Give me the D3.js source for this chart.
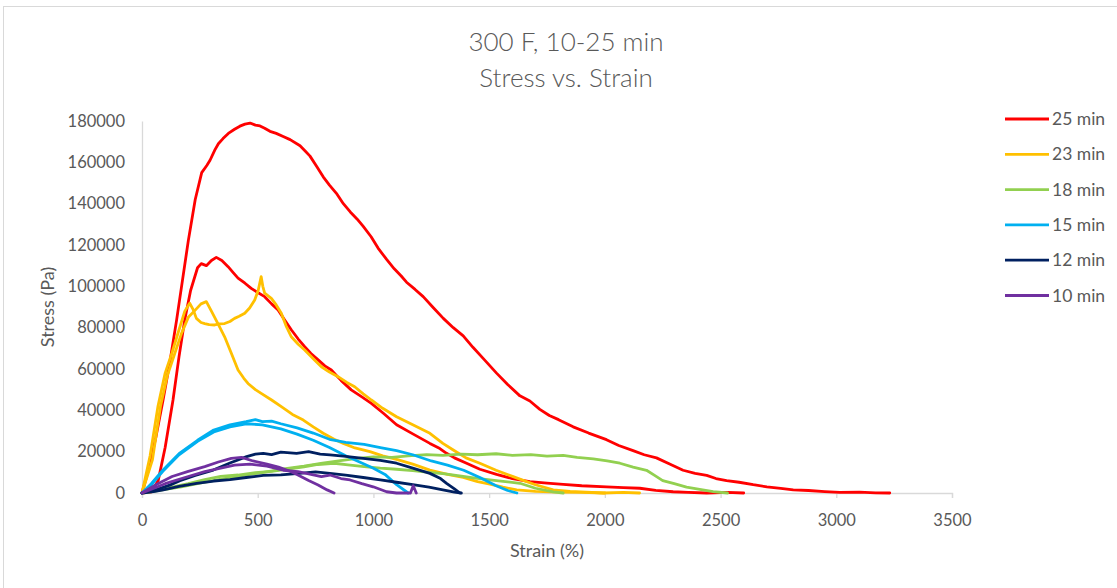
<!DOCTYPE html>
<html>
<head>
<meta charset="utf-8">
<script src="https://cdn.jsdelivr.net/npm/d3@7"></script>
<style>
  body { margin: 0; background: #fff; }
  svg { display: block; font-family: Lato, "Open Sans", sans-serif; }
</style>
</head>
<body>
<div id="chart"></div>
<script>
// series (legend order) and the two test pieces drawn for each of them
const seriesNames = ["25 min", "23 min", "18 min", "15 min", "12 min", "10 min"];
const seriesColors = ["#ff0000", "#ffc000", "#92d050", "#00b0f0", "#002060", "#7030a0"];
const xTicks = [0, 500, 1000, 1500, 2000, 2500, 3000, 3500];
const yTicks = [0, 20000, 40000, 60000, 80000, 100000, 120000, 140000, 160000, 180000];

// [strain %, stress Pa]
const min25a = [[0,0],[30,12000],[60,27000],[91,45000],[120,63000],[150,84000],[175,103000],[200,122000],[230,142000],[258,155000],[280,158500],[294,161000],[315,166000],[330,169000],[350,171500],[373,174000],[400,176000],[423,177500],[445,178500],[467,179000],[490,178000],[510,177600],[530,176500],[553,175000],[580,174000],[610,172500],[640,171000],[683,168000],[705,165500],[726,163000],[755,158000],[783,153000],[810,149000],[840,145000],[870,140000],[900,136000],[930,132500],[956,129000],[990,124000],[1020,118500],[1057,113000],[1090,108500],[1120,105000],[1143,102000],[1180,98500],[1215,95000],[1260,89500],[1302,84500],[1345,80000],[1388,76000],[1430,70500],[1475,65000],[1532,58000],[1580,52500],[1633,47000],[1676,44500],[1719,40500],[1760,37500],[1800,35500],[1863,32000],[1930,29000],[2007,25800],[2060,23000],[2122,20500],[2170,18500],[2223,17000],[2280,14000],[2338,11000],[2390,9500],[2440,8500],[2480,7000],[2526,6000],[2580,5200],[2641,4000],[2700,3000],[2760,2200],[2814,1500],[2880,1200],[2950,700],[3015,300],[3100,400],[3170,100],[3231,0]];
const min25b = [[0,0],[40,500],[70,6000],[100,22000],[134,45000],[160,66000],[185,84000],[210,98000],[240,109000],[256,111000],[278,110000],[300,112500],[321,114000],[345,112500],[372,109500],[395,106500],[415,104000],[445,101500],[472,99000],[500,97000],[530,95000],[560,91500],[588,88600],[615,84000],[645,79000],[675,74500],[703,70800],[730,67500],[761,64400],[790,61500],[818,59500],[860,54500],[904,49900],[950,46500],[991,43400],[1043,38600],[1100,33000],[1172,28500],[1244,24000],[1287,21500],[1316,19200],[1350,17000],[1400,14500],[1460,11500],[1532,9000],[1600,7000],[1676,5500],[1750,4800],[1820,4200],[1900,3500],[2007,3000],[2080,2600],[2151,2300],[2220,1300],[2295,600],[2360,300],[2440,0],[2530,300],[2600,0]];
const min23a = [[0,0],[35,18000],[69,42000],[100,58000],[130,68000],[160,79000],[185,88000],[206,91800],[220,89000],[235,84500],[255,82500],[271,82000],[290,81500],[314,81300],[335,81800],[357,82000],[380,83000],[400,84500],[420,85500],[444,87000],[465,89500],[487,93400],[502,98000],[515,104700],[522,100000],[530,96700],[559,94200],[580,91000],[602,87000],[622,81000],[645,75600],[675,72000],[703,69200],[740,65000],[775,61100],[810,58500],[847,56300],[885,53500],[919,51400],[956,48000],[991,45000],[1040,41000],[1100,36900],[1170,33000],[1244,28900],[1300,24000],[1345,20800],[1400,17000],[1460,14400],[1530,11000],[1604,7900],[1650,6000],[1700,4000],[1777,1500],[1850,800],[1920,400],[1993,0],[2080,300],[2150,0]];
const min23b = [[0,0],[45,16000],[80,42000],[110,57000],[140,67000],[170,77000],[200,85000],[230,88500],[255,91500],[278,92600],[300,88000],[328,82000],[357,75600],[386,67600],[415,59500],[440,55500],[458,53000],[490,50000],[515,48200],[560,45000],[602,41800],[650,38000],[697,35300],[740,32000],[783,28900],[830,26000],[870,24000],[920,21800],[985,20000],[1040,18000],[1100,16300],[1170,14000],[1244,11100],[1320,9000],[1388,7500],[1450,5500],[1503,4300],[1560,2800],[1619,1500],[1700,800],[1800,400],[1900,300],[2000,0]];
const min18a = [[0,0],[50,800],[100,1800],[170,3000],[250,4800],[330,6500],[400,7800],[480,9200],[550,10500],[620,11800],[700,13000],[780,14500],[850,15500],[930,16800],[1000,17500],[1080,17200],[1150,18000],[1230,18600],[1300,18200],[1380,18800],[1450,18500],[1530,19000],[1600,18200],[1680,18600],[1750,17800],[1820,18200],[1880,17200],[1950,16500],[2010,15500],[2065,14400],[2122,12500],[2180,11000],[2215,8500],[2250,6000],[2300,4500],[2353,2800],[2410,1800],[2468,700],[2530,0]];
const min18b = [[0,0],[60,1200],[130,2800],[200,4500],[271,6500],[340,8000],[415,8700],[490,9800],[560,10500],[630,11500],[700,12700],[760,13800],[830,14400],[890,13600],[960,12800],[1030,12000],[1100,11500],[1170,10800],[1240,10000],[1310,9300],[1380,8200],[1440,7200],[1503,6300],[1570,5500],[1633,4700],[1700,2300],[1777,500],[1820,0]];
const min15a = [[0,0],[40,4500],[90,11000],[160,19000],[240,25500],[310,30500],[380,33000],[450,34500],[490,35500],[520,34500],[560,34800],[600,33500],[670,31500],[740,29000],[810,26000],[880,24500],[960,23500],[1030,22000],[1100,20500],[1170,18500],[1250,15500],[1320,13500],[1390,11000],[1460,7500],[1530,3500],[1580,1200],[1620,0]];
const min15b = [[0,0],[40,4000],[90,10500],[160,18500],[240,25000],[310,29500],[380,32000],[450,33500],[520,33000],[600,31000],[670,28500],[740,25500],[810,22000],[880,18000],[940,15000],[1000,12000],[1050,9000],[1100,4000],[1150,0]];
const min12a = [[0,0],[60,1500],[120,3800],[164,6000],[230,8500],[308,11100],[380,14500],[452,17600],[490,18800],[524,19200],[560,18600],[600,19800],[668,19200],[720,20000],[770,18800],[812,18400],[870,17800],[956,16800],[1030,15800],[1100,14400],[1170,12000],[1244,9500],[1290,7000],[1316,4700],[1350,2000],[1374,0]];
const min12b = [[0,0],[50,700],[92,1500],[160,3200],[236,4700],[310,5800],[380,6500],[450,7500],[524,8500],[600,8800],[680,9500],[750,10200],[812,9500],[880,8600],[956,7500],[1030,6400],[1100,5200],[1170,4000],[1240,2800],[1300,1500],[1350,400],[1380,0]];
const min10a = [[0,0],[60,4000],[130,8000],[200,10500],[271,12800],[330,15000],[386,16800],[430,17200],[480,15500],[540,14000],[590,12500],[640,10500],[674,8700],[720,6000],[761,3900],[800,1500],[830,0]];
const min10b = [[0,0],[100,4500],[200,8000],[271,10300],[340,12000],[400,13500],[467,14000],[540,13000],[610,11000],[674,10300],[730,9000],[775,7900],[812,8700],[860,7000],[899,6300],[950,4500],[999,3000],[1057,600],[1100,0],[1160,0],[1172,3500],[1185,0]];

const specimens = [
  [0, min25a], [0, min25b],
  [1, min23a], [1, min23b],
  [2, min18a], [2, min18b],
  [3, min15a], [3, min15b],
  [4, min12a], [4, min12b],
  [5, min10a], [5, min10b]
];

const W = 1117, H = 588;
const textColor = "#595959";
const axisColor = "#d9d9d9";

const svg = d3.select("#chart").append("svg")
    .attr("width", W)
    .attr("height", H);

svg.append("rect")
    .attr("x", 3.5).attr("y", 6.5)
    .attr("width", W + 10).attr("height", H + 10)
    .attr("fill", "#fff")
    .attr("stroke", axisColor);

const x = d3.scaleLinear().domain([0, 3500]).range([142, 952]);
const y = d3.scaleLinear().domain([0, 180000]).range([493, 121]);

// titles
svg.append("text")
    .attr("x", 566).attr("y", 51)
    .attr("text-anchor", "middle")
    .attr("font-size", 26)
    .attr("font-weight", 300)
    .attr("fill", textColor)
    .text("300 F, 10-25 min");
svg.append("text")
    .attr("x", 566).attr("y", 87)
    .attr("text-anchor", "middle")
    .attr("font-size", 26)
    .attr("font-weight", 300)
    .attr("fill", textColor)
    .text("Stress vs. Strain");

// axes
const xAxis = svg.append("g")
    .attr("transform", "translate(0,493)")
    .call(d3.axisBottom(x).tickValues(xTicks).tickSize(5).tickPadding(16).tickFormat(d3.format("d")));
const yAxis = svg.append("g")
    .attr("transform", "translate(142,0)")
    .call(d3.axisLeft(y).tickValues(yTicks).tickSize(0).tickPadding(17).tickFormat(d3.format("d")));

[xAxis, yAxis].forEach(g => {
  g.select(".domain").attr("stroke", axisColor).attr("stroke-width", 1.3);
  g.selectAll(".tick line").attr("stroke", axisColor).attr("stroke-width", 1.3);
  g.selectAll(".tick text")
      .attr("fill", textColor)
      .attr("font-size", 16.5)
      .attr("font-family", "Lato, 'Open Sans', sans-serif");
});

svg.append("text")
    .attr("x", 547).attr("y", 557)
    .attr("text-anchor", "middle")
    .attr("font-size", 18)
    .attr("fill", textColor)
    .text("Strain (%)");
svg.append("text")
    .attr("transform", "translate(54,307) rotate(-90)")
    .attr("text-anchor", "middle")
    .attr("font-size", 18)
    .attr("fill", textColor)
    .text("Stress (Pa)");

// curves
const line = d3.line()
    .x(d => x(d[0]))
    .y(d => y(d[1]));

svg.append("g")
  .selectAll("path")
  .data(specimens)
  .join("path")
    .attr("d", d => line(d[1]))
    .attr("fill", "none")
    .attr("stroke", d => seriesColors[d[0]])
    .attr("stroke-width", 2.8)
    .attr("stroke-linejoin", "round")
    .attr("stroke-linecap", "round");

// legend
const legend = svg.append("g")
  .selectAll("g")
  .data(seriesNames)
  .join("g")
    .attr("transform", (d, i) => "translate(1005," + (119 + i * 35.3) + ")");
legend.append("line")
    .attr("x1", 0).attr("x2", 44)
    .attr("stroke", (d, i) => seriesColors[i])
    .attr("stroke-width", 2.8);
legend.append("text")
    .attr("x", 47).attr("y", 6)
    .attr("font-size", 17.5)
    .attr("fill", textColor)
    .text(d => d);
</script>
</body>
</html>
